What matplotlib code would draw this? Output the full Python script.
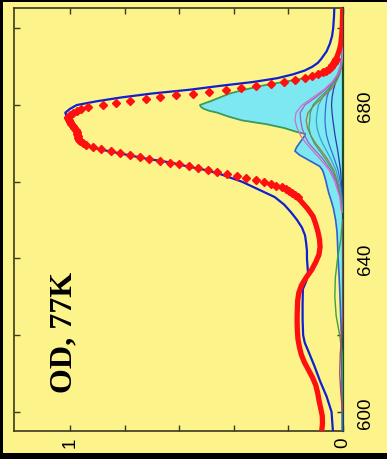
import numpy as np
import matplotlib
matplotlib.use("Agg")
import matplotlib.pyplot as plt
from matplotlib.patches import Rectangle

# measured OD (thick red line, outer parts of the spectrum)
red_wl_low = [595, 597, 599, 601, 603, 605, 607, 609, 611, 613, 615, 617, 619, 621, 623, 625,
              627, 629, 631, 633, 635, 637, 639, 641, 643, 645, 647, 649, 651, 653, 655, 656]
red_od_low = [0.078, 0.075, 0.076, 0.082, 0.088, 0.093, 0.100, 0.112, 0.127, 0.142, 0.153, 0.160,
              0.165, 0.167, 0.168, 0.168, 0.167, 0.166, 0.162, 0.152, 0.135, 0.115, 0.100, 0.088,
              0.084, 0.086, 0.092, 0.100, 0.110, 0.130, 0.155, 0.166]
red_wl_tail = [691, 692, 693, 694, 695, 696, 698, 700, 702, 705]
red_od_tail = [0.034, 0.025, 0.020, 0.015, 0.011, 0.008, 0.005, 0.003, 0.002, 0.001]

# measured OD every 0.5 nm around the band (red diamonds)
red_wl_pts = list(np.arange(656.0, 692.5, 0.5))
red_od_pts = [0.166, 0.175, 0.185, 0.197, 0.210, 0.225, 0.245, 0.265, 0.290, 0.320,
              0.355, 0.390, 0.425, 0.460, 0.495, 0.530, 0.565, 0.600, 0.635, 0.670,
              0.710, 0.745, 0.780, 0.815, 0.850, 0.885, 0.915, 0.940, 0.953, 0.962,
              0.967, 0.970, 0.972, 0.973, 0.975, 0.979, 0.984, 0.990, 0.995, 1.000,
              1.005, 1.008, 1.007, 1.000, 0.990, 0.975, 0.960, 0.935, 0.880, 0.830,
              0.780, 0.720, 0.670, 0.610, 0.550, 0.490, 0.430, 0.375, 0.320, 0.265,
              0.215, 0.175, 0.140, 0.112, 0.090, 0.074, 0.062, 0.052, 0.045, 0.039,
              0.034, 0.029, 0.025]

# fitted sum (blue)
fit_wl = [595, 600, 604, 608, 612, 616, 618, 620, 624, 628, 632, 634, 636, 638, 640, 642, 644,
          646, 648, 650, 652, 654, 656, 658, 660, 661, 662, 663, 664, 665, 666, 667, 668, 669,
          670, 671, 672, 673, 674, 675, 676, 677, 678, 679, 680, 681, 682, 683, 684, 685, 686,
          687, 688, 689, 690, 691, 692, 694, 696, 698, 700, 703, 705]
fit_od = [0.037, 0.042, 0.060, 0.084, 0.105, 0.128, 0.140, 0.146, 0.148, 0.148, 0.147, 0.135,
          0.128, 0.130, 0.132, 0.132, 0.135, 0.139, 0.150, 0.168, 0.190, 0.215, 0.250, 0.310,
          0.370, 0.410, 0.450, 0.500, 0.570, 0.630, 0.720, 0.790, 0.860, 0.925, 0.953, 0.962,
          0.968, 0.974, 0.983, 0.993, 1.003, 1.012, 1.017, 1.000, 0.975, 0.900, 0.810, 0.700,
          0.560, 0.450, 0.330, 0.240, 0.183, 0.140, 0.112, 0.092, 0.080, 0.060, 0.048, 0.040,
          0.036, 0.033, 0.032]

# main band envelope (cyan area)
band_wl = [595, 600, 610, 620, 630, 635, 640, 644, 647, 650, 653, 655, 657, 659, 660, 661, 662,
           663, 664, 665, 666, 667, 668, 669, 670, 671, 672, 672.5, 673, 674, 675, 676, 677,
           678, 678.5, 679, 679.5, 680, 680.5, 681, 682, 683, 684, 685, 686, 687, 688, 689,
           690, 692, 694, 696, 698]
band_od = [0.003, 0.003, 0.004, 0.006, 0.011, 0.014, 0.018, 0.020, 0.022, 0.027, 0.035, 0.043,
           0.052, 0.059, 0.062, 0.066, 0.070, 0.075, 0.085, 0.110, 0.135, 0.160, 0.176, 0.170,
           0.160, 0.150, 0.140, 0.140, 0.170, 0.215, 0.280, 0.370, 0.420, 0.460, 0.490, 0.510,
           0.520, 0.524, 0.505, 0.485, 0.450, 0.415, 0.360, 0.300, 0.220, 0.140, 0.088, 0.060,
           0.044, 0.022, 0.010, 0.004, 0.001]

# gaussian-like sub-bands (thin lines)
comp_wl = [652, 656, 660, 663, 666, 668, 670, 672, 674, 676, 678, 680, 682, 684, 686, 688, 690, 693, 697]
comp_pink = [0.005, 0.012, 0.030, 0.050, 0.085, 0.110, 0.135, 0.155, 0.168, 0.176, 0.172, 0.150,
             0.110, 0.070, 0.040, 0.020, 0.008, 0.002, 0.0]
comp_purple = [0.004, 0.010, 0.025, 0.045, 0.075, 0.100, 0.125, 0.140, 0.150, 0.155, 0.157, 0.140,
               0.100, 0.065, 0.035, 0.017, 0.007, 0.002, 0.0]
comp_green = [0.004, 0.010, 0.022, 0.038, 0.065, 0.085, 0.105, 0.118, 0.125, 0.122, 0.120, 0.110,
              0.085, 0.055, 0.030, 0.015, 0.006, 0.002, 0.0]
comp_olive = [0.003, 0.008, 0.020, 0.034, 0.058, 0.078, 0.100, 0.118, 0.130, 0.135, 0.128, 0.105,
              0.075, 0.045, 0.025, 0.012, 0.005, 0.001, 0.0]
comp_teal = [0.002, 0.006, 0.015, 0.026, 0.045, 0.060, 0.075, 0.087, 0.095, 0.098, 0.095, 0.090,
             0.075, 0.055, 0.035, 0.018, 0.008, 0.002, 0.0]
comp_blue = [0.002, 0.004, 0.010, 0.018, 0.032, 0.042, 0.052, 0.060, 0.064, 0.066, 0.065, 0.063,
             0.059, 0.050, 0.035, 0.020, 0.010, 0.003, 0.0]
comp_navy = [0.001, 0.003, 0.006, 0.009, 0.015, 0.019, 0.024, 0.029, 0.033, 0.037, 0.040, 0.042,
             0.040, 0.035, 0.027, 0.017, 0.008, 0.002, 0.0]

# small bands in the red part of the spectrum
small_wl = [600, 605, 610, 615, 620, 625, 630, 635, 640, 645, 650]
small_green = [0.0, 0.0, 0.001, 0.003, 0.012, 0.025, 0.030, 0.028, 0.020, 0.008, 0.002]
small_maroon = [0.002, 0.008, 0.012, 0.010, 0.005, 0.001, 0.0, 0.0, 0.0, 0.0, 0.0]

wl_ticks = [600, 620, 640, 660, 680, 700]
wl_labels = ['600', '', '640', '', '680', '']
od_ticks = [0, 0.2, 0.4, 0.6, 0.8, 1.0]
od_labels = ['0', '', '', '', '', '1']

yellow = '#fcf38a'

fig = plt.figure(figsize=(3.87, 4.60), dpi=100, facecolor=yellow)
# black frame round the picture
for (x0, y0, w, h) in [(0, 0, 3, 460), (0, 0, 387, 6), (0, 457, 387, 3)]:
    fig.patches.append(Rectangle((x0 / 387, y0 / 460), w / 387, h / 460,
                                 transform=fig.transFigure, facecolor='black', edgecolor='none'))
ax = fig.add_axes([14 / 387, 28 / 460, 329 / 387, 423 / 460])
ax.set_facecolor(yellow)

# the figure is turned on its side: OD runs right->left, wavelength bottom->top
ax.fill_betweenx(band_wl, 0, band_od, color='#7de8f2', lw=0, zorder=2)
bw = np.array(band_wl)
bo = np.array(band_od)
ax.plot(bo[bw >= 672.5], bw[bw >= 672.5], color='#3a9a5a', lw=1.3, zorder=3)
ax.plot(bo[bw <= 672.5], bw[bw <= 672.5], color='#3060d0', lw=1.2, zorder=3)

for od, c in [(comp_navy, '#2a3aa8'), (comp_blue, '#3a6ad8'), (comp_teal, '#30a8c8'),
              (comp_olive, '#a07840'), (comp_green, '#40a060'), (comp_purple, '#9a60c8'),
              (comp_pink, '#d070c0')]:
    ax.plot(od, comp_wl, color=c, lw=0.9, zorder=4)
ax.plot(small_green, small_wl, color='#40a040', lw=1.0, zorder=4)
ax.plot(small_maroon, small_wl, color='#b04060', lw=1.0, zorder=4)

ax.plot(fit_od, fit_wl, color='#1020d0', lw=1.6, zorder=5)
ax.plot(red_od_low, red_wl_low, color='#ff1010', lw=3.8, solid_capstyle='round', zorder=6)
ax.plot(red_od_tail, red_wl_tail, color='#ff1010', lw=3.8, solid_capstyle='round', zorder=6)
ax.plot(red_od_pts, red_wl_pts, ls='none', marker='D', ms=3.8, color='#ff1010', mec='#ff1010', zorder=6)

ax.set_xlim(1.205, 0)
ax.set_ylim(595, 705.3)
ax.set_xticks(od_ticks)
ax.set_xticklabels(od_labels)
ax.set_yticks(wl_ticks)
ax.set_yticklabels(wl_labels)
ax.tick_params(direction='in', length=4, width=1, color='#3a3a20', top=True, right=True,
               labelleft=False, labelright=True, labelsize=13.5, labelcolor='black')
ax.tick_params(axis='y', pad=10)
ax.tick_params(axis='x', pad=4)
for lab in ax.get_xticklabels() + ax.get_yticklabels():
    lab.set_rotation(90)
    lab.set_fontfamily('Liberation Sans')
for lab in ax.get_yticklabels():
    lab.set_va('center')
for s in ['left', 'top', 'bottom']:
    ax.spines[s].set_color('#3a3a20')
    ax.spines[s].set_linewidth(1.2)
ax.spines['right'].set_color('#1a4a2a')
ax.spines['right'].set_linewidth(1.6)

fig.text(64 / 387, 1 - 332 / 460, 'OD, 77K', rotation=90, ha='center', va='center',
         fontfamily='Liberation Serif', fontweight='bold', fontsize=23)

plt.savefig('out.png', dpi=100, facecolor=fig.get_facecolor())
